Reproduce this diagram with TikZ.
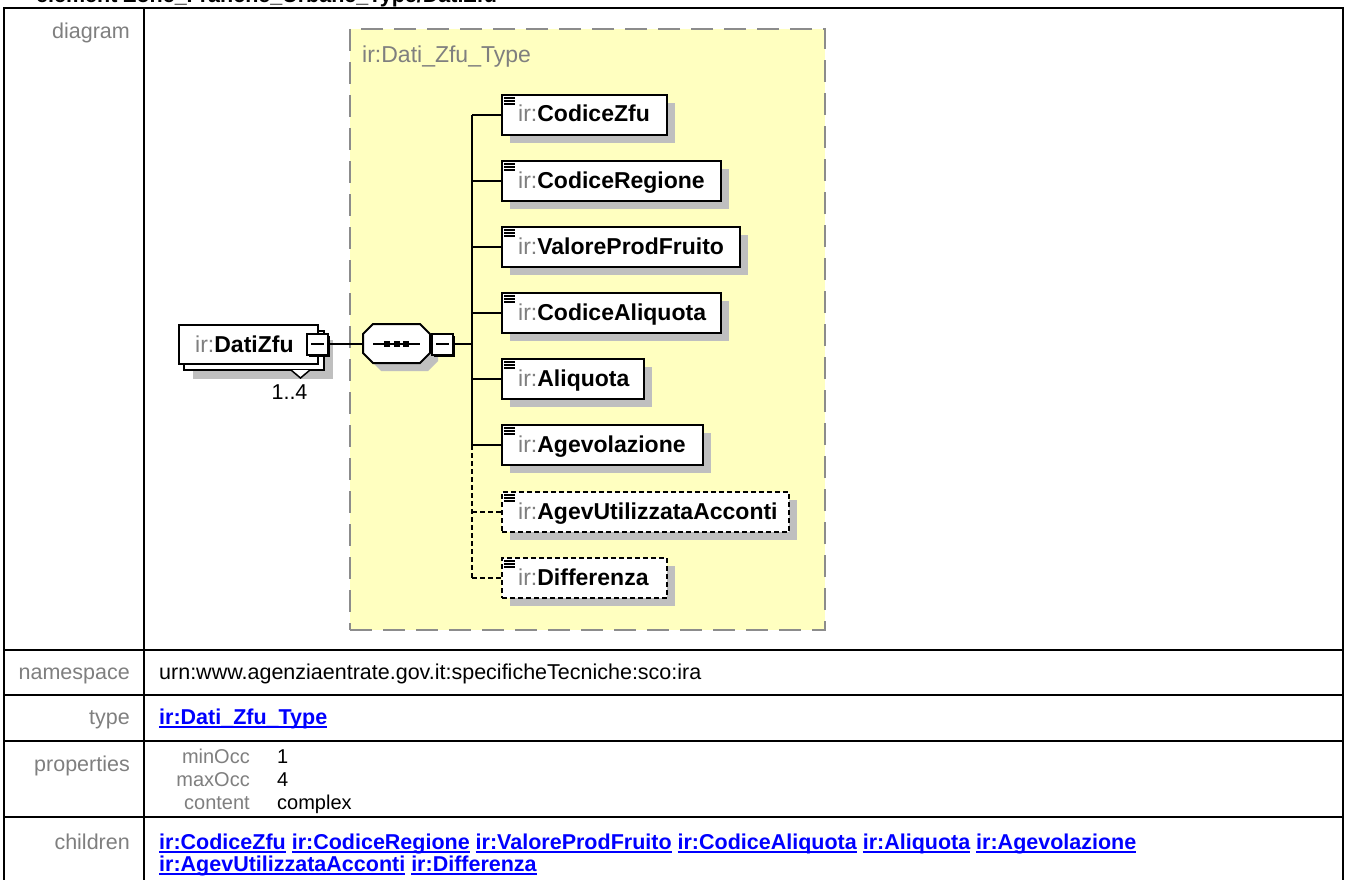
\documentclass[tikz,border=0pt]{standalone}
\usepackage{fontspec}
\setmainfont{Liberation Sans}
\usetikzlibrary{shadows}
\definecolor{lbl}{HTML}{7F7F7F}
\definecolor{yel}{HTML}{FFFFC0}
\definecolor{shd}{HTML}{BFBFBF}
\definecolor{lnk}{HTML}{0000FF}
\definecolor{bord}{HTML}{8C8C8C}
\newcommand\ulk[1]{\setbox0\hbox{#1}\rlap{\rule[-4pt]{\wd0}{2pt}}\box0\relax}
\newcommand\dfont{\fontsize{23}{27}\selectfont}
\newcommand\tfont{\fontsize{21.5}{25}\selectfont}
\newcommand\pfont{\fontsize{20}{24}\selectfont}
\newcommand\elicon[1]{\foreach \dy in {4,7,10}{\draw[line width=1.6pt] ([xshift=3pt,yshift=-\dy pt]#1.north west) -- ++(11,0);}}
\begin{document}
\begin{tikzpicture}[x=1pt,y=-1pt,
 tbl/.style={line width=2.5pt, black},
 lab/.style={anchor=base east, inner sep=0, text=lbl, font=\tfont},
 val/.style={anchor=base west, inner sep=0, font=\tfont},
 plab/.style={anchor=base east, inner sep=0, text=lbl, font=\pfont},
 pval/.style={anchor=base west, inner sep=0, font=\pfont},
 elem/.style={draw, line width=2pt, fill=white, inner sep=0, anchor=north west, minimum height=40pt,
   drop shadow={shadow xshift=8pt, shadow yshift=-8pt, fill=shd, opacity=1}},
 optelem/.style={elem, dash pattern=on 5pt off 3pt},
 etext/.style={anchor=base west, inner sep=0, font=\dfont},
 minusbox/.style={draw, line width=2pt, fill=white, minimum size=20pt, inner sep=0,
   drop shadow={shadow xshift=2pt, shadow yshift=-2pt, fill=black, opacity=1},
   path picture={\draw[line width=1.5pt] ([xshift=4pt]path picture bounding box.west) -- ([xshift=-4pt]path picture bounding box.east);}},
 conn/.style={line width=2pt},
 optconn/.style={line width=2pt, dash pattern=on 5pt off 3pt}
]
\useasboundingbox (0,0) rectangle (1347,880);
\fill[white] (0,0) rectangle (1347,880);

% title (cut off at top, as in the reference)
\begin{scope}
\clip (0,0) rectangle (1347,880);
\node[anchor=base west, inner sep=0, font=\bfseries\tfont] (title) at (36,3) {element Zone\_Franche\_Urbane\_Type/DatiZfu};
\end{scope}

% table grid
\draw[tbl] (4,8) rectangle (1343,900);
\draw[tbl] (144,8) -- (144,900);
\draw[tbl] (4,650) -- (1343,650);
\draw[tbl] (4,695) -- (1343,695);
\draw[tbl] (4,741) -- (1343,741);
\draw[tbl] (4,817) -- (1343,817);

% row labels
\node[lab] (l1) at (130,39) {diagram};
\node[lab] (l2) at (130,679) {namespace};
\node[lab] (l3) at (130,724) {type};
\node[lab] (l4) at (130,771) {properties};
\node[lab] (l5) at (130,849) {children};

% values
\node[val] (ns) at (159,679) {urn:www.agenziaentrate.gov.it:specificheTecniche:sco:ira};
\node[val, text=lnk, font=\bfseries\tfont] (ty) at (159,724) {\ulk{ir:Dati\_Zfu\_Type}};
\node[plab] (p1l) at (250,763) {minOcc};
\node[pval] (p1v) at (277,763) {1};
\node[plab] (p2l) at (250,786) {maxOcc};
\node[pval] (p2v) at (277,786) {4};
\node[plab] (p3l) at (250,809) {content};
\node[pval] (p3v) at (277,809) {complex};
\node[val, text=lnk, font=\bfseries\tfont] (ch1) at (159,849) {\ulk{ir:CodiceZfu} \ulk{ir:CodiceRegione} \ulk{ir:ValoreProdFruito} \ulk{ir:CodiceAliquota} \ulk{ir:Aliquota} \ulk{ir:Agevolazione}};
\node[val, text=lnk, font=\bfseries\tfont] (ch2) at (159,871) {\ulk{ir:AgevUtilizzataAcconti} \ulk{ir:Differenza}};

% type box
\node[draw=bord, fill=yel, line width=2pt, dash pattern=on 22pt off 11pt, minimum width=475pt, minimum height=601pt, anchor=north west, inner sep=0] (tbox) at (349,28) {};
\node[etext, text=lbl] (tlab) at (362,63) {ir:Dati\_Zfu\_Type};

% DatiZfu element (repeated)
\node[draw, line width=2pt, fill=white, inner sep=0, anchor=north west, minimum width=140pt, minimum height=39pt,
   drop shadow={shadow xshift=9pt, shadow yshift=-9pt, fill=shd, opacity=1}] (dzback) at (183,330) {};
\node[draw, line width=2pt, fill=white, inner sep=0, anchor=north west, minimum width=139pt, minimum height=39pt] (dz) at (178,324) {};
\filldraw[fill=white, line width=1.5pt] (291,370) -- (300.5,378) -- (310,370);
\node[etext] (dzt) at (195,352) {\textcolor{lbl}{ir:}\textbf{DatiZfu}};
\node[minusbox, minimum size=21pt] (dzm) at (317.5,344) {};
\node[anchor=base, inner sep=0, font=\tfont] (occ) at (289.5,399) {1..4};

% sequence compositor
\fill[shd] (381,332) -- (428,332) -- (438,342) -- (438,361) -- (428,371) -- (381,371) -- (371,361) -- (371,342) -- cycle;
\filldraw[fill=white, line width=2pt] (373,324) -- (420,324) -- (430,334) -- (430,353) -- (420,363) -- (373,363) -- (363,353) -- (363,334) -- cycle;
\coordinate (seqL) at (363,344);
\draw[line width=1.5pt] (373,344) -- (420,344);
\foreach \cx in {387,396.5,406}{\fill (\cx-3,341) rectangle (\cx+3,347);}
\node[minusbox, minimum size=21pt] (seqm) at (442.5,344) {};

% child elements
\node[elem, minimum width=165pt] (e1) at (501,94) {};
\node[elem, minimum width=219pt] (e2) at (501,160) {};
\node[elem, minimum width=238pt] (e3) at (501,226) {};
\node[elem, minimum width=219pt] (e4) at (501,292) {};
\node[elem, minimum width=142pt] (e5) at (501,358) {};
\node[elem, minimum width=201pt] (e6) at (501,424) {};
\node[optelem, minimum width=287pt] (e7) at (501,491) {};
\node[optelem, minimum width=165pt] (e8) at (501,557) {};
\foreach \n in {e1,e2,e3,e4,e5,e6,e7,e8}{\elicon{\n}}
\node[etext] (t1) at (518,122) {\textcolor{lbl}{ir:}\textbf{CodiceZfu}};
\node[etext] (t2) at (518,188) {\textcolor{lbl}{ir:}\textbf{CodiceRegione}};
\node[etext] (t3) at (518,254) {\textcolor{lbl}{ir:}\textbf{ValoreProdFruito}};
\node[etext] (t4) at (518,320) {\textcolor{lbl}{ir:}\textbf{CodiceAliquota}};
\node[etext] (t5) at (518,386) {\textcolor{lbl}{ir:}\textbf{Aliquota}};
\node[etext] (t6) at (518,452) {\textcolor{lbl}{ir:}\textbf{Agevolazione}};
\node[etext] (t7) at (518,519) {\textcolor{lbl}{ir:}\textbf{AgevUtilizzataAcconti}};
\node[etext] (t8) at (518,585) {\textcolor{lbl}{ir:}\textbf{Differenza}};

% connectors
\coordinate (bus) at (472,344);
\draw[conn] (dzm.east) -- (seqL);
\draw[conn] (seqm.east) -- (bus);
\draw[conn] (bus |- e1.west) -- (bus |- e6.west);
\draw[optconn] (bus |- e6.west) -- (bus |- e8.west);
\foreach \n in {e1,e2,e3,e4,e5,e6}{\draw[conn] (bus |- \n.west) -- (\n.west);}
\foreach \n in {e7,e8}{\draw[optconn] (bus |- \n.west) -- (\n.west);}
\end{tikzpicture}
\end{document}
